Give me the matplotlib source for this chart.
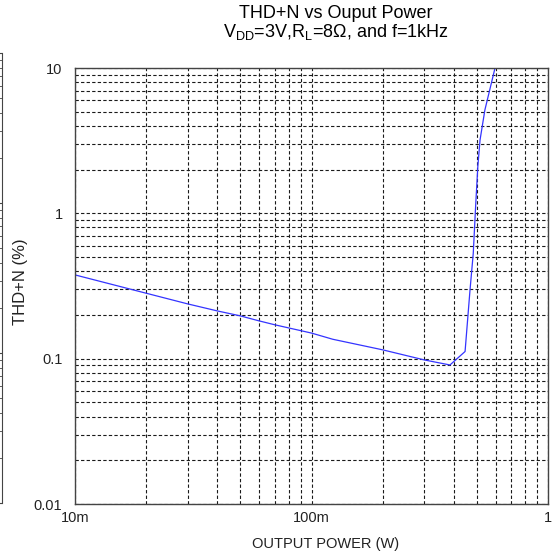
import matplotlib.pyplot as plt
from matplotlib.ticker import FixedLocator, FixedFormatter, LogLocator, NullFormatter

plt.rcParams['font.family'] = ['Liberation Sans', 'DejaVu Sans']

# THD+N curve
power = [0.01, 0.02, 0.03, 0.04, 0.05, 0.06, 0.07, 0.1, 0.123, 0.2, 0.3,
         0.385, 0.446, 0.468, 0.483, 0.495, 0.505, 0.516, 0.541, 0.597]
thd = [0.377, 0.282, 0.238, 0.213, 0.197, 0.182, 0.171, 0.150, 0.136, 0.115, 0.098,
       0.0905, 0.112, 0.297, 0.53, 1.17, 2.10, 3.2, 5.15, 10]

x_ticks = [0.01, 0.1, 1]
x_labels = ['10m', '100m', '1']
y_ticks = [0.01, 0.1, 1, 10]
y_labels = ['0.01', '0.1', '1', '10']

W, H = 553, 554
fig = plt.figure(figsize=(W / 100, H / 100), dpi=100)
ax = fig.add_axes([75 / W, 1 - 504 / H, 473 / W, 436 / H])

ax.plot(power, thd, color='#3434ff', lw=0.9)

ax.set_xscale('log')
ax.set_yscale('log')
ax.set_xlim(0.01, 1)
ax.set_ylim(0.01, 10)

ax.xaxis.set_major_locator(FixedLocator(x_ticks))
ax.xaxis.set_major_formatter(FixedFormatter(x_labels))
ax.yaxis.set_major_locator(FixedLocator(y_ticks))
ax.yaxis.set_major_formatter(FixedFormatter(y_labels))
ax.xaxis.set_minor_locator(LogLocator(base=10, subs=range(2, 10)))
ax.yaxis.set_minor_locator(LogLocator(base=10, subs=range(2, 10)))
ax.xaxis.set_minor_formatter(NullFormatter())
ax.yaxis.set_minor_formatter(NullFormatter())

ax.grid(True, which='both', color='#1a1a1a', linestyle=(0, (3, 2)), lw=0.8)
ax.tick_params(which='both', length=0, labelsize=10.5, colors='#222222')
ax.tick_params(axis='y', pad=9)
ax.tick_params(axis='x', pad=5)
for s in ax.spines.values():
    s.set_color('#444444')
    s.set_linewidth(1)

ax.set_xlabel('OUTPUT POWER (W)', fontsize=10.5, color='#222222')
ax.xaxis.set_label_coords(0.53, -0.075)
ax.set_ylabel('THD+N (%)', fontsize=12, color='#222222')
ax.yaxis.set_label_coords(-0.099, 0.51)

fig.text(336 / W, 1 - 13 / H, 'THD+N vs Ouput Power', ha='center', va='center', fontsize=13)
fig.text(336 / W, 1 - 32 / H, r'$\mathregular{V_{DD}}$=3V,$\mathregular{R_L}$=8Ω, and f=1kHz',
         ha='center', va='center', fontsize=13)

# edge of a neighbouring plot cut off at the left border
ax_l = fig.add_axes([-0.2, 1 - 503 / H, 0.2 + 2 / W, 450 / H])
ax_l.set_yscale('log')
ax_l.set_ylim(0.01, 10)
ax_l.set_xticks([])
for k in ['top', 'bottom', 'left']:
    ax_l.spines[k].set_visible(False)
ax_l.spines['right'].set_color('#444444')
ax_l.yaxis.tick_right()
ax_l.tick_params(which='both', direction='in', labelright=False, color='#444444')
ax_l.tick_params(which='major', length=5)
ax_l.tick_params(which='minor', length=3)
ax_l.patch.set_visible(False)

fig.savefig('out.png', dpi=100, facecolor='white')
